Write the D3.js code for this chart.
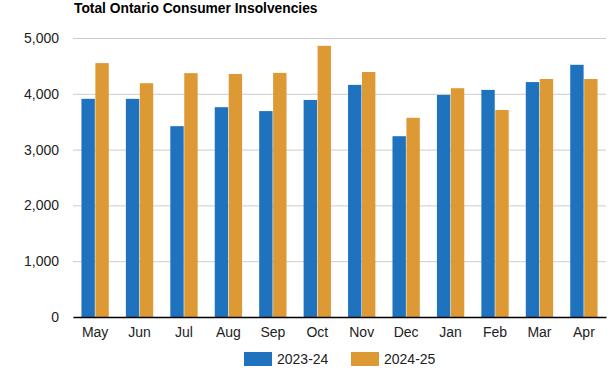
<!DOCTYPE html>
<html>
<head>
<meta charset="utf-8">
<script src="https://cdn.jsdelivr.net/npm/d3@7.9.0/dist/d3.min.js"></script>
<style>
  body { margin: 0; background: #fff; font-family: Arial, "Liberation Sans", sans-serif; }
  svg text { fill: #222; }
</style>
</head>
<body>
<svg id="chart" width="616" height="370"></svg>
<script>
const months = ['May', 'Jun', 'Jul', 'Aug', 'Sep', 'Oct', 'Nov', 'Dec', 'Jan', 'Feb', 'Mar', 'Apr'];
const series = ['2023-24', '2024-25'];
const values2023 = [3910, 3910, 3420, 3760, 3690, 3890, 4160, 3240, 3980, 4070, 4210, 4520];
const values2024 = [4550, 4190, 4370, 4355, 4375, 4860, 4390, 3570, 4100, 3710, 4265, 4265];
const yTicks = [0, 1000, 2000, 3000, 4000, 5000];
const colors = ['#1f73be', '#dc9934'];

const rows = months.map((m, i) => ({ month: m, vals: [values2023[i], values2024[i]] }));

const svg = d3.select('#chart');
const margin = { top: 38, right: 10, bottom: 53, left: 73 };
const width = 616 - margin.left - margin.right;
const height = 370 - margin.top - margin.bottom;

const g = svg.append('g').attr('transform', `translate(${margin.left},${margin.top})`);

const x = d3.scaleBand().domain(months).range([0, width]).paddingInner(0.385).paddingOuter(0.19);
const xs = d3.scaleBand().domain(series).range([0, x.bandwidth()]).paddingInner(0.04);
const y = d3.scaleLinear().domain([0, 5000]).range([height, 0]);

// title
svg.append('text')
  .attr('x', 74).attr('y', 13)
  .attr('font-size', 13.8).attr('font-weight', 'bold')
  .style('fill', '#000')
  .text('Total Ontario Consumer Insolvencies');

// gridlines
g.append('g')
  .call(d3.axisLeft(y).tickValues(yTicks).tickSize(-width).tickFormat(''))
  .call(s => s.select('.domain').remove())
  .call(s => s.selectAll('line').attr('stroke', '#ccc'));

// y labels
g.append('g')
  .call(d3.axisLeft(y).tickValues(yTicks).tickSize(0).tickPadding(14).tickFormat(d3.format(',')))
  .call(s => s.select('.domain').remove())
  .call(s => s.selectAll('text').attr('font-size', 14).attr('font-family', 'Arial, "Liberation Sans", sans-serif').style('fill', '#222'));

// bars
const groups = g.append('g').selectAll('g')
  .data(rows)
  .join('g')
  .attr('transform', d => `translate(${x(d.month)},0)`);

groups.selectAll('rect')
  .data(d => d.vals.map((v, i) => ({ key: series[i], value: v, i })))
  .join('rect')
  .attr('x', d => xs(d.key))
  .attr('width', xs.bandwidth())
  .attr('y', d => y(d.value))
  .attr('height', d => y(0) - y(d.value))
  .attr('fill', d => colors[d.i]);

// x axis
g.append('g')
  .attr('transform', `translate(0,${height})`)
  .call(d3.axisBottom(x).tickSize(0).tickPadding(10))
  .call(s => s.select('.domain').attr('stroke', '#000').attr('stroke-width', 1.5))
  .call(s => s.selectAll('text').attr('font-size', 14).attr('font-family', 'Arial, "Liberation Sans", sans-serif').style('fill', '#222'));

// legend
const legend = svg.append('g').attr('transform', 'translate(244,352)');
const items = legend.selectAll('g')
  .data(series)
  .join('g')
  .attr('transform', (d, i) => `translate(${i * 107},0)`);
items.append('rect').attr('width', 28).attr('height', 14).attr('fill', (d, i) => colors[i]);
items.append('text').attr('x', 33).attr('y', 12).attr('font-size', 14).text(d => d);
</script>
</body>
</html>
